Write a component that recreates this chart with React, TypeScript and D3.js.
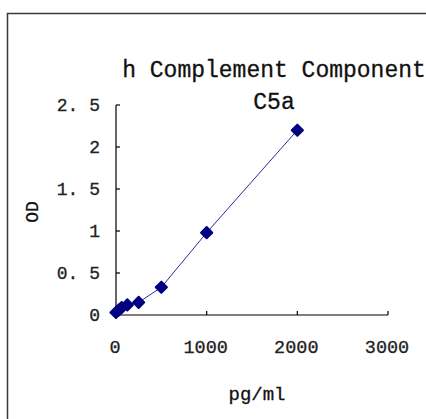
import * as d3 from "d3";

const concentrations = [0, 31.25, 62.5, 125, 250, 500, 1000, 2000];
const odValues = [0.03, 0.06, 0.09, 0.12, 0.15, 0.33, 0.98, 2.2];
const xTicks = [0, 1000, 2000, 3000];
const yTicks = [0, 0.5, 1, 1.5, 2, 2.5];
const titleLines = ["h Complement Component", "C5a"];

const W = 426;
const H = 419;
const FONT = "'Liberation Mono', 'DejaVu Sans Mono', monospace";

export default function App() {
  const x = d3.scaleLinear().domain([0, 3000]).range([116, 388]);
  const y = d3.scaleLinear().domain([0, 2.5]).range([315, 105]);

  const line = d3
    .line<number>()
    .x((_, i) => x(concentrations[i]))
    .y((d) => y(d));

  const diamond = d3.symbol().type(d3.symbolDiamond2).size(80)();

  return (
    <svg
      width={W}
      height={H}
      style={{ position: "absolute", left: 0, top: 0, display: "block", background: "#fff" }}
    >
      {/* chart frame, runs off the right and bottom */}
      <rect x={7.5} y={13.5} width={600} height={600} fill="none" stroke="#3a3a3a" strokeWidth={1.5} />

      {titleLines.map((t, i) => (
        <text
          key={t}
          x={274}
          y={77 + i * 32}
          textAnchor="middle"
          fontFamily={FONT}
          fontSize={23}
          fill="#111"
          stroke="#111"
          strokeWidth={0.3}
        >
          {t}
        </text>
      ))}

      {/* y axis */}
      <line x1={x(0)} x2={x(0)} y1={y(2.5)} y2={y(0)} stroke="#000" strokeWidth={1.2} />
      {yTicks.map((t) => (
        <g key={t}>
          <line x1={x(0)} x2={x(0) + 4} y1={y(t)} y2={y(t)} stroke="#000" strokeWidth={1.2} />
          <text
            x={100}
            y={y(t)}
            dy="0.36em"
            textAnchor="end"
            fontFamily={FONT}
            fontSize={18}
            fill="#222"
            stroke="#222"
            strokeWidth={0.3}
          >
            {String(t).replace(".", ". ")}
          </text>
        </g>
      ))}

      {/* x axis */}
      <line x1={x(0)} x2={x(3000)} y1={y(0)} y2={y(0)} stroke="#000" strokeWidth={1.2} />
      {xTicks.map((t) => (
        <g key={t}>
          <line x1={x(t)} x2={x(t)} y1={y(0)} y2={y(0) - 4} stroke="#000" strokeWidth={1.2} />
          <text
            x={x(t) - 1}
            y={353}
            textAnchor="middle"
            fontFamily={FONT}
            fontSize={18.5}
            fill="#222"
            stroke="#222"
            strokeWidth={0.3}
          >
            {t}
          </text>
        </g>
      ))}

      <text x={257} y={400} textAnchor="middle" fontFamily={FONT} fontSize={19} fill="#111" stroke="#111" strokeWidth={0.3}>
        pg/ml
      </text>
      <text
        transform="translate(38,212) rotate(-90)"
        textAnchor="middle"
        fontFamily={FONT}
        fontSize={18}
        fill="#111"
        stroke="#111"
        strokeWidth={0.3}
      >
        OD
      </text>

      <path d={line(odValues) ?? ""} fill="none" stroke="#2b2ba0" strokeWidth={1} />
      {odValues.map((v, i) => (
        <path
          key={i}
          d={diamond ?? ""}
          transform={`translate(${x(concentrations[i])},${y(v)})`}
          fill="#000080"
          stroke="#000080"
          strokeWidth={2}
          strokeLinejoin="round"
        />
      ))}
    </svg>
  );
}
